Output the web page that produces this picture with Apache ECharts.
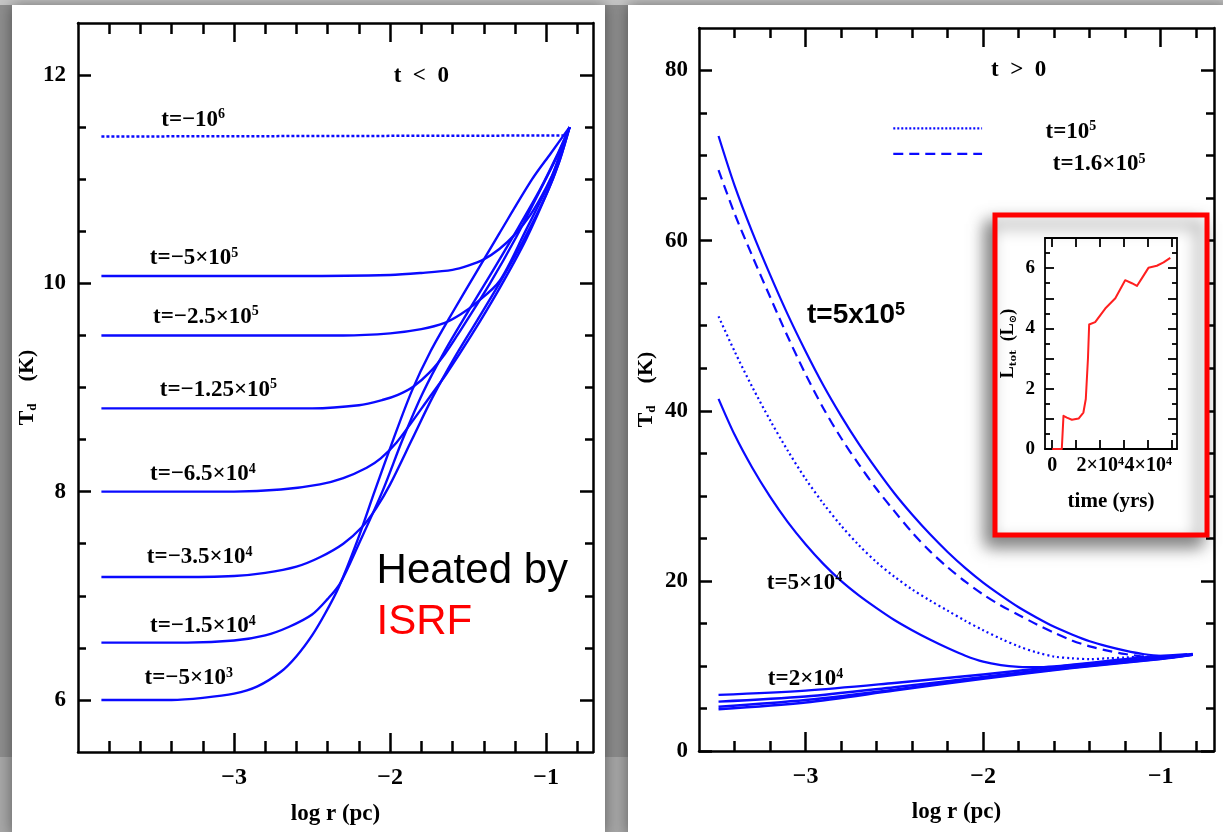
<!DOCTYPE html>
<html>
<head>
<meta charset="utf-8">
<script src="https://cdn.jsdelivr.net/npm/echarts@6/dist/echarts.min.js"></script>
<style>
html,body{margin:0;padding:0;background:#8e8e8e;overflow:hidden;}
#c{width:1223px;height:832px;}
</style>
</head>
<body>
<div id="c"></div>
<script>
// ---------------- DATA ----------------
// Left panel (t < 0): log r (pc) vs dust temperature T_d (K)
const leftTminus1e6   = [[-3.85,11.41],[-0.86,11.42]];
const leftTminus5e5   = [[-3.85,10.07],[-3.2,10.07],[-2.6,10.07],[-2.0,10.08],[-1.8,10.1],[-1.6,10.13],[-1.5,10.17],[-1.4,10.23],[-1.3,10.33],[-1.2,10.47],[-1.1,10.66],[-1.0,10.92],[-0.93,11.15],[-0.85,11.5]];
const leftTminus2_5e5 = [[-3.85,9.5],[-3.2,9.5],[-2.7,9.5],[-2.3,9.5],[-2.0,9.52],[-1.8,9.56],[-1.65,9.62],[-1.55,9.7],[-1.45,9.81],[-1.3,10.02],[-1.14,10.48],[-0.97,11.0],[-0.91,11.25],[-0.85,11.5]];
const leftTminus1_25e5= [[-3.85,8.8],[-3.3,8.8],[-2.8,8.8],[-2.5,8.8],[-2.2,8.83],[-2.05,8.88],[-1.95,8.93],[-1.85,9.01],[-1.75,9.14],[-1.65,9.32],[-1.57,9.5],[-1.36,10.0],[-1.19,10.45],[-1.02,10.95],[-0.93,11.22],[-0.85,11.5]];
const leftTminus6_5e4 = [[-3.85,8.0],[-3.4,8.0],[-3.0,8.0],[-2.7,8.02],[-2.45,8.07],[-2.3,8.13],[-2.15,8.23],[-2.06,8.32],[-1.96,8.47],[-1.86,8.67],[-1.76,8.88],[-1.64,9.13],[-1.48,9.5],[-1.3,9.95],[-1.13,10.42],[-0.98,10.92],[-0.91,11.2],[-0.85,11.5]];
const leftTminus3_5e4 = [[-3.85,7.18],[-3.4,7.18],[-3.0,7.19],[-2.8,7.22],[-2.6,7.28],[-2.45,7.37],[-2.3,7.5],[-2.18,7.66],[-2.09,7.84],[-2.0,8.07],[-1.86,8.5],[-1.73,8.9],[-1.59,9.28],[-1.44,9.65],[-1.3,10.0],[-1.15,10.4],[-1.0,10.85],[-0.92,11.15],[-0.85,11.5]];
const leftTminus1_5e4 = [[-3.85,6.55],[-3.55,6.55],[-3.3,6.55],[-3.0,6.57],[-2.8,6.62],[-2.65,6.7],[-2.5,6.82],[-2.4,6.97],[-2.32,7.12],[-2.2,7.5],[-2.05,8.0],[-1.92,8.5],[-1.79,8.95],[-1.65,9.35],[-1.5,9.73],[-1.35,10.1],[-1.2,10.48],[-1.04,10.9],[-0.94,11.2],[-0.85,11.5]];
const leftTminus5e3   = [[-3.85,6.0],[-3.6,6.0],[-3.4,6.0],[-3.2,6.02],[-3.0,6.06],[-2.85,6.13],[-2.7,6.27],[-2.6,6.42],[-2.5,6.62],[-2.42,6.82],[-2.33,7.08],[-2.21,7.53],[-2.1,8.0],[-1.98,8.5],[-1.86,8.97],[-1.74,9.35],[-1.6,9.72],[-1.45,10.1],[-1.3,10.48],[-1.09,11.0],[-0.97,11.25],[-0.85,11.5]];

// Right panel (t > 0)
const rightT5e5   = [[-3.49,72.3],[-3.4,66.5],[-3.3,61.0],[-3.2,56.0],[-3.1,51.3],[-3.0,47.0],[-2.9,43.0],[-2.8,39.4],[-2.7,36.1],[-2.6,33.1],[-2.5,30.3],[-2.4,27.8],[-2.3,25.5],[-2.2,23.4],[-2.1,21.5],[-2.0,19.8],[-1.9,18.3],[-1.8,16.9],[-1.7,15.7],[-1.6,14.6],[-1.5,13.7],[-1.4,12.9],[-1.3,12.3],[-1.2,11.8],[-1.1,11.4],[-1.0,11.2],[-0.9,11.2],[-0.82,11.4]];
const rightT1_6e5 = [[-3.49,68.3],[-3.4,63.2],[-3.3,58.2],[-3.2,53.4],[-3.1,48.7],[-3.0,44.3],[-2.9,40.3],[-2.8,36.8],[-2.7,33.7],[-2.6,30.8],[-2.5,28.2],[-2.4,25.7],[-2.3,23.5],[-2.2,21.6],[-2.1,19.9],[-2.0,18.4],[-1.9,17.1],[-1.8,16.0],[-1.7,14.9],[-1.6,13.9],[-1.5,13.0],[-1.4,12.3],[-1.3,11.8],[-1.2,11.4],[-1.1,11.1],[-1.0,11.0],[-0.9,11.1],[-0.85,11.3]];
const rightT1e5   = [[-3.49,51.1],[-3.4,47.0],[-3.3,42.8],[-3.2,38.9],[-3.1,35.3],[-3.0,32.0],[-2.9,29.1],[-2.8,26.5],[-2.7,24.2],[-2.6,22.2],[-2.5,20.5],[-2.4,19.0],[-2.3,17.7],[-2.2,16.5],[-2.1,15.3],[-2.0,14.2],[-1.9,13.2],[-1.8,12.3],[-1.7,11.6],[-1.6,11.1],[-1.5,10.9],[-1.4,10.8],[-1.3,10.9],[-1.2,11.0],[-1.1,11.1],[-1.0,11.1],[-0.85,11.3]];
const rightT5e4   = [[-3.49,41.4],[-3.4,37.2],[-3.3,33.3],[-3.2,29.9],[-3.1,26.9],[-3.0,24.3],[-2.9,22.0],[-2.8,20.0],[-2.7,18.3],[-2.6,16.8],[-2.5,15.4],[-2.4,14.2],[-2.3,13.1],[-2.2,12.1],[-2.1,11.2],[-2.0,10.5],[-1.9,10.1],[-1.8,9.9],[-1.7,9.85],[-1.6,9.95],[-1.5,10.15],[-1.3,10.6],[-1.1,11.0],[-0.85,11.4]];
const rightT2e4   = [[-3.49,6.6],[-3.0,7.1],[-2.5,8.0],[-2.0,9.0],[-1.5,10.1],[-1.0,11.0],[-0.82,11.4]];
const rightT1e4   = [[-3.49,5.8],[-3.0,6.4],[-2.5,7.5],[-2.0,8.7],[-1.5,9.9],[-1.0,10.9],[-0.82,11.35]];
const rightT5e3   = [[-3.49,5.2],[-3.0,6.0],[-2.5,7.2],[-2.0,8.6],[-1.5,9.8],[-1.0,10.85],[-0.82,11.3]];
const rightT0     = [[-3.49,4.9],[-3.0,5.7],[-2.5,7.1],[-2.0,8.5],[-1.5,9.75],[-1.0,10.8],[-0.82,11.3]];

// Inset: total luminosity vs time
const insetTime = [0,4000,4700,4700,6100,8200,11000,13000,14000,14900,15400,17900,22100,26300,30400,33200,35300,37400,40100,43600,46400,49200];
const insetLum  = [0,0,0,1.1,1.04,0.97,1.01,1.21,1.66,3.0,4.13,4.21,4.66,5.0,5.6,5.5,5.41,5.67,6.01,6.08,6.19,6.34];

// Tick values
const leftXMajor = [-3,-2,-1];
const leftXMinor = [-3.8,-3.6,-3.4,-3.2,-2.8,-2.6,-2.4,-2.2,-1.8,-1.6,-1.4,-1.2,-0.8];
const leftYMajor = [6,8,10,12];
const leftYMinor = [6.5,7,7.5,8.5,9,9.5,10.5,11,11.5];
const rightXMajor = [-3,-2,-1];
const rightXMinor = [-3.4,-3.2,-2.8,-2.6,-2.4,-2.2,-1.8,-1.6,-1.4,-1.2,-0.8];
const rightYMajor = [0,20,40,60,80];
const rightYMinor = [5,10,15,25,30,35,45,50,55,65,70,75];
const insetXTicks = [0,10000,20000,30000,40000,50000];
const insetXLabels = [0,20000,40000];
const insetYMajor = [1,2,3,4,5,6];
const insetYMinor = [0.5,1.5,2.5,3.5,4.5,5.5,6.5];
const insetYLabels = [0,2,4,6];

// Text annotations [x, y, mantissa, exponent]
const leftCurveLabels = [
  [-3.262,11.57,'t=−10','6'],
  [-3.256,10.24,'t=−5×10','5'],
  [-3.18,9.68,'t=−2.5×10','5'],
  [-3.10,8.98,'t=−1.25×10','5'],
  [-3.20,8.17,'t=−6.5×10','4'],
  [-3.22,7.37,'t=−3.5×10','4'],
  [-3.20,6.71,'t=−1.5×10','4'],
  [-3.29,6.21,'t=−5×10','3']
];
const rightCurveLabels = [
  [-3.006,19.8,'t=5×10','4'],
  [-3.0,8.4,'t=2×10','4'],
  [-1.506,72.8,'t=10','5'],
  [-1.347,69.0,'t=1.6×10','5']
];
const legendDotted = [[-2.506,73.2],[-2.006,73.2]];
const legendDashed = [[-2.506,70.2],[-2.006,70.2]];

// ---------------- CHART ----------------
const SERIF = "'Liberation Serif','DejaVu Serif',serif";
const SANS = "'Liberation Sans',Arial,sans-serif";
const BLUE = '#0a0aff';
const chart = echarts.init(document.getElementById('c'), null, {renderer:'canvas'});

const xAxes = [], yAxes = [];
function mkAxis(gridIndex, position, min, max, ticks, tickLen, showLine, labelCfg, nameCfg, z, lw) {
  const a = {
    type:'value', gridIndex, position, min, max, z,
    axisLine:{show:showLine, onZero:false, lineStyle:{color:'#000', width:lw}},
    axisTick:{show:true, inside:true, length:tickLen, customValues:ticks, lineStyle:{color:'#000', width:lw}},
    axisLabel: labelCfg ? Object.assign({show:true}, labelCfg) : {show:false},
    splitLine:{show:false},
    axisPointer:{show:false}
  };
  if (nameCfg) Object.assign(a, nameCfg);
  return a;
}
function addFrame(g, X, Y, z, lw) {
  const xi = xAxes.length, yi = yAxes.length;
  xAxes.push(mkAxis(g,'bottom',X.min,X.max,X.major,X.majLen,true,X.label,X.name,z,lw));
  xAxes.push(mkAxis(g,'top',X.min,X.max,X.major,X.majLen,true,null,null,z,lw));
  if (X.minor.length) {
    xAxes.push(mkAxis(g,'bottom',X.min,X.max,X.minor,X.minLen,false,null,null,z,lw));
    xAxes.push(mkAxis(g,'top',X.min,X.max,X.minor,X.minLen,false,null,null,z,lw));
  }
  yAxes.push(mkAxis(g,'left',Y.min,Y.max,Y.major,Y.majLen,true,Y.label,Y.name,z,lw));
  yAxes.push(mkAxis(g,'right',Y.min,Y.max,Y.major,Y.majLen,true,null,null,z,lw));
  if (Y.minor.length) {
    yAxes.push(mkAxis(g,'left',Y.min,Y.max,Y.minor,Y.minLen,false,null,null,z,lw));
    yAxes.push(mkAxis(g,'right',Y.min,Y.max,Y.minor,Y.minLen,false,null,null,z,lw));
  }
  return {xi, yi};
}
const minusFmt = v => (v < 0 ? '−' : '') + Math.abs(v);
const tickLabel = (vals, margin, size) => ({customValues: vals, formatter: minusFmt, fontFamily: SERIF, fontWeight:'bold', fontSize: size, color: '#000', margin});
const tdName = (gap) => ({
  name:'{t|T}{d|d}{t|\u2002\u2002(K)}', nameLocation:'middle', nameGap:gap, nameRotate:90,
  nameTextStyle:{rich:{
    t:{fontFamily:SERIF, fontWeight:'bold', fontSize:22, lineHeight:24, color:'#000'},
    d:{fontFamily:SERIF, fontWeight:'bold', fontSize:13, lineHeight:12, verticalAlign:'bottom', color:'#000'}
  }}
});
const logrName = (gap) => ({name:'log r (pc)', nameLocation:'middle', nameGap:gap,
  nameTextStyle:{fontFamily:SERIF, fontWeight:'bold', fontSize:23, color:'#000'}});

const L = addFrame(0,
  {min:-4, max:-0.7, major:leftXMajor, minor:leftXMinor, majLen:19, minLen:11, label:tickLabel(leftXMajor,14,24), name:logrName(51)},
  {min:5.5, max:12.5, major:leftYMajor, minor:leftYMinor, majLen:13, minLen:8, label:tickLabel(leftYMajor,12,23), name:tdName(39)},
  1, 2.5);
const R = addFrame(1,
  {min:-3.6, max:-0.7, major:rightXMajor, minor:rightXMinor, majLen:19, minLen:10, label:tickLabel(rightXMajor,14,24), name:logrName(50)},
  {min:0, max:85, major:rightYMajor, minor:rightYMinor, majLen:13, minLen:8, label:tickLabel(rightYMajor,11,23), name:tdName(41)},
  1, 2.5);
const I = addFrame(2,
  {min:-3000, max:52000, major:insetXTicks, minor:[], majLen:9, minLen:5,
    label:{customValues:insetXLabels, margin:7, color:'#000',
      formatter: v => v === 0 ? '{m|0}' : '{m|' + (v/10000) + '×10}{s|4}',
      rich:{m:{fontFamily:SERIF, fontWeight:'bold', fontSize:20, lineHeight:20, color:'#000'},
            s:{fontFamily:SERIF, fontWeight:'bold', fontSize:12, lineHeight:9, verticalAlign:'top', color:'#000'}}},
    name:{name:'time (yrs)', nameLocation:'middle', nameGap:42, nameTextStyle:{fontFamily:SERIF, fontWeight:'bold', fontSize:21, color:'#000'}}},
  {min:0, max:7, major:insetYMajor, minor:insetYMinor, majLen:9, minLen:5,
    label:{customValues:insetYLabels, margin:10, fontFamily:SERIF, fontWeight:'bold', fontSize:19, color:'#000'},
    name:{name:'{a|L}{b|tot}{a|\u2002(L}{b|⊙}{a|)}', nameLocation:'middle', nameGap:27, nameRotate:90,
      nameTextStyle:{rich:{a:{fontFamily:SERIF, fontWeight:'bold', fontSize:18, lineHeight:20, color:'#000'},
        b:{fontFamily:"'DejaVu Serif',serif", fontWeight:'bold', fontSize:10, lineHeight:10, verticalAlign:'bottom', color:'#000'}}}}},
  6, 1.8);

const richSerif = {
  m:{fontFamily:SERIF, fontWeight:'bold', fontSize:23, lineHeight:24, color:'#000'},
  s:{fontFamily:SERIF, fontWeight:'bold', fontSize:14, lineHeight:10, verticalAlign:'top', color:'#000'}
};
const fmt = (m, e) => '{m|' + m + '}' + (e ? '{s|' + e + '}' : '');

function lineSeries(ax, data, type, width, color, z, smooth) {
  return {type:'line', xAxisIndex:ax.xi, yAxisIndex:ax.yi, data, showSymbol:false, symbol:'none',
    silent:true, animation:false, z: z || 3,
    smooth: smooth === undefined ? 0.3 : smooth,
    lineStyle:{color: color || BLUE, width, type: type || 'solid', cap:'butt', join:'round'}};
}
function labelSeries(ax, items, z) {
  return {type:'scatter', xAxisIndex:ax.xi, yAxisIndex:ax.yi, symbolSize:1, silent:true, animation:false, z: z || 5,
    itemStyle:{color:'rgba(0,0,0,0)', opacity:1},
    data: items.map(it => ({value:[it[0], it[1]],
      label:{show:true, position: it.pos || 'inside', distance:0, formatter: it.text, rich: it.rich,
        color:'#000', opacity:1, textBorderWidth:0}}))};
}

const series = [];
// Left panel curves
series.push(lineSeries(L, leftTminus1e6, [3,2], 2.5, null, 3, false));
[leftTminus5e5, leftTminus2_5e5, leftTminus1_25e5, leftTminus6_5e4, leftTminus3_5e4, leftTminus1_5e4, leftTminus5e3]
  .forEach(d => series.push(lineSeries(L, d, 'solid', 2.4)));
// Right panel curves
series.push(lineSeries(R, rightT5e5, 'solid', 2.2));
series.push(lineSeries(R, rightT1_6e5, [10,6], 2.2));
series.push(lineSeries(R, rightT1e5, [2,3], 2.2));
series.push(lineSeries(R, rightT5e4, 'solid', 2.2));
[rightT2e4, rightT1e4, rightT5e3, rightT0].forEach(d => series.push(lineSeries(R, d, 'solid', 2.4)));
series.push(lineSeries(R, legendDotted, [2,2], 2.2, null, 3, false));
series.push(lineSeries(R, legendDashed, [10,6], 2.2, null, 3, false));
// Inset curve
series.push(lineSeries(I, insetTime.map((t, i) => [t, insetLum[i]]), 'solid', 2, '#ff1f1f', 8, false));

// Annotations
const leftTexts = leftCurveLabels.map(l => Object.assign([l[0], l[1]], {text: fmt(l[2], l[3]), rich: richSerif}));
leftTexts.push(Object.assign([-1.80, 11.99], {text:'{m|t\u2002<\u20020}', rich: richSerif}));
const heated = Object.assign([-2.09, 7.23], {text:'{h|Heated by}', pos:'right',
  rich:{h:{fontFamily:SANS, fontSize:42, lineHeight:44, color:'#000'}}});
const isrf = Object.assign([-2.09, 6.74], {text:'{h|ISRF}', pos:'right',
  rich:{h:{fontFamily:SANS, fontSize:42, lineHeight:44, color:'#ff0000'}}});
leftTexts.push(heated, isrf);
series.push(labelSeries(L, leftTexts));

const rightTexts = rightCurveLabels.map(l => Object.assign([l[0], l[1]], {text: fmt(l[2], l[3]), rich: richSerif}));
rightTexts.push(Object.assign([-1.80, 80.0], {text:'{m|t\u2002>\u20020}', rich: richSerif}));
rightTexts.push(Object.assign([-2.716, 51.2], {text:'{b|t=5x10}{s|5}', rich:{
  b:{fontFamily:SANS, fontWeight:'bold', fontSize:28, lineHeight:28, color:'#000'},
  s:{fontFamily:SANS, fontWeight:'bold', fontSize:18, lineHeight:14, verticalAlign:'top', color:'#000'}}}));
series.push(labelSeries(R, rightTexts));

const option = {
  animation:false,
  backgroundColor:'#8e8e8e',
  textStyle:{fontFamily:SERIF},
  graphic:[
    {type:'rect', z:-20, silent:true, shape:{x:0,y:0,width:1223,height:5}, style:{fill:'#c6c6c6'}},
    {type:'rect', z:-20, silent:true, shape:{x:0,y:757,width:12,height:75}, style:{fill:'#a8a8a8'}},
    {type:'rect', z:-20, silent:true, shape:{x:605,y:757,width:23,height:75}, style:{fill:'#a8a8a8'}},
    {type:'rect', z:-15, silent:true, shape:{x:12,y:5,width:593,height:830},
      style:{fill:'#ffffff', shadowBlur:14, shadowColor:'rgba(0,0,0,0.45)'}},
    {type:'rect', z:-15, silent:true, shape:{x:628,y:5,width:600,height:830},
      style:{fill:'#ffffff', shadowBlur:14, shadowColor:'rgba(0,0,0,0.45)'}},
    {type:'rect', z:4, silent:true, shape:{x:995,y:215,width:212,height:320},
      style:{fill:'#ffffff', stroke:'#ff0000', lineWidth:5, shadowBlur:16, shadowOffsetX:-7, shadowOffsetY:9, shadowColor:'rgba(0,0,0,0.5)'}}
  ],
  grid:[
    {left:78, top:23, width:515, height:729, outerBoundsMode:'none', containLabel:false},
    {left:699, top:28, width:515, height:723, outerBoundsMode:'none', containLabel:false},
    {left:1045, top:238, width:132, height:211, outerBoundsMode:'none', containLabel:false}
  ],
  xAxis: xAxes,
  yAxis: yAxes,
  series
};
chart.setOption(option);
</script>
</body>
</html>
